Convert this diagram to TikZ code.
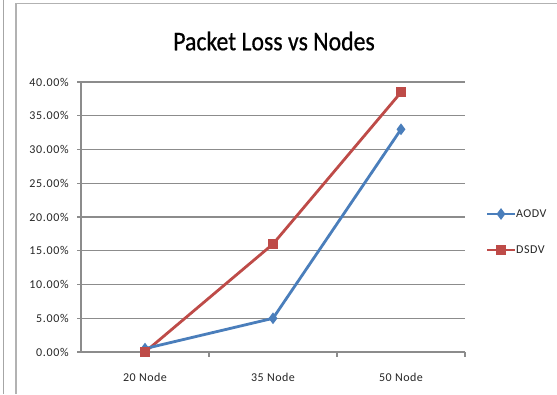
\documentclass[tikz,border=0pt]{standalone}
\usepackage{fontspec}
\setmainfont{Carlito}
\newfontfamily\titlefont[FakeStretch=0.88,FakeBold=0.6]{Carlito}
\usetikzlibrary{shapes.geometric}
\definecolor{ablue}{HTML}{4A7EBB}
\definecolor{dred}{HTML}{BE4B48}
\definecolor{gridc}{HTML}{8C8C8C}
\begin{document}
\begin{tikzpicture}[x=1pt,y=-1pt,
  gridline/.style={draw=gridc,line width=1.1pt},
  ticklab/.style={anchor=east,font=\fontsize{12}{12}\selectfont\addfontfeatures{LetterSpace=6},text=black!85,inner sep=0pt},
  catlab/.style={anchor=center,font=\fontsize{12}{12}\selectfont\addfontfeatures{LetterSpace=4},text=black!85,inner sep=0pt},
  aline/.style={draw=ablue,line width=2.8pt,line join=round},
  dline/.style={draw=dred,line width=2.8pt,line join=round},
  amark/.style={diamond,fill=ablue,draw=none,minimum width=9pt,minimum height=12pt,inner sep=0pt},
  dmark/.style={rectangle,fill=dred,draw=none,minimum size=10pt,inner sep=0pt},
  framel/.style={draw=black!30,line width=1.2pt}]
\useasboundingbox (0,0) rectangle (557,394);
\fill[white] (0,0) rectangle (557,394);
% frames
\draw[draw=black!35,line width=0.8pt] (3.5,0) -- (3.5,394);
\draw[framel] (16,394) -- (16,3.5) -- (557,3.5);
% title
\node[font=\titlefont\fontsize{27}{27}\selectfont,inner sep=0pt] (title) at (274,41) {Packet Loss vs Nodes};
% grid
\foreach \i/\lab in {0/0.00\%,1/5.00\%,2/10.00\%,3/15.00\%,4/20.00\%,5/25.00\%,6/30.00\%,7/35.00\%,8/40.00\%}{
  \pgfmathsetmacro{\yy}{352-33.75*\i}
  \draw[gridline] (77,\yy) -- (465,\yy);
  \node[ticklab] (t\i) at (69,\yy) {\lab};
}
\draw[gridline] (81,82) -- (81,352);
\foreach \xx in {209,337,465}{\draw[gridline] (\xx,352) -- (\xx,357);}
\node[catlab] (c1) at (145,377) {20 Node};
\node[catlab] (c2) at (273,377) {35 Node};
\node[catlab] (c3) at (401,377) {50 Node};
% data
\coordinate (a1) at (145,348.6);
\coordinate (a2) at (273,318.3);
\coordinate (a3) at (401,129.3);
\coordinate (d1) at (145,352);
\coordinate (d2) at (273,244);
\coordinate (d3) at (401,92.3);
\draw[dline] (d1) -- (d2) -- (d3);
\draw[aline] (a1) -- (a2) -- (a3);
\foreach \p in {a1,a2,a3}{\node[amark] at (\p) {};}
\foreach \p in {d1,d2,d3}{\node[dmark] at (\p) {};}
% legend
\coordinate (la1) at (487,214);
\coordinate (la2) at (515,214);
\coordinate (ld1) at (487,250);
\coordinate (ld2) at (515,250);
\draw[aline] (la1) -- (la2);
\node[amark] (lam) at (501,214) {};
\draw[dline] (ld1) -- (ld2);
\node[dmark] (ldm) at (501,250) {};
\node[anchor=west,inner sep=0pt,font=\fontsize{12}{12}\selectfont\addfontfeatures{LetterSpace=4},text=black!85] (lta) at (516,214) {AODV};
\node[anchor=west,inner sep=0pt,font=\fontsize{12}{12}\selectfont\addfontfeatures{LetterSpace=4},text=black!85] (ltd) at (516,250) {DSDV};
\end{tikzpicture}
\end{document}
